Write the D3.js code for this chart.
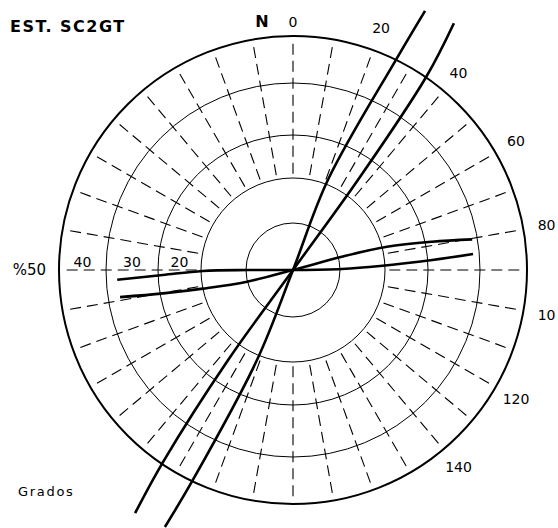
<!DOCTYPE html>
<html><head><meta charset="utf-8">
<script src="https://cdn.jsdelivr.net/npm/d3@7"></script>
<style>html,body{margin:0;padding:0;background:#fff;} svg{display:block;}</style>
</head><body>
<svg id="chart" width="558" height="528"></svg>
<script>
// ---- data ----
const title = "EST. SC2GT";
const northLabel = "N";
const footLabel = "Grados";
const ringValues = [10, 20, 30, 40, 50];
const ringLabelValues = [20, 30, 40, 50];
const ringLabelTexts = ["20", "30", "40", "%50"];
const spokeAngles = d3.range(0, 360, 10);
const angleTickValues = [0, 20, 40, 60, 80, 100, 120, 140];
const angleTickTexts = ["0", "20", "40", "60", "80", "10", "120", "140"];
// curves: [azimuth (deg, clockwise from N), percent]
const curve1 = [[27.0, 62.1], [26.1, 50.0], [21.2, 21.1], [0, 0], [201.8, 21.1], [205.5, 49.7], [206.5, 61.3]];
const curve2 = [[33.1, 62.9], [34.6, 50.1], [35.8, 24.4], [0, 0], [215.8, 24.4], [214.1, 49.5], [213.0, 61.9]];
const curve3 = [[266.8, 37.9], [267.8, 28.9], [269.4, 19.6], [270, 9.8], [0, 0], [88.8, 10.4], [87.4, 18.9], [85.9, 30.9], [84.9, 38.8]];
const curve4 = [[261.1, 37.7], [259.8, 29.3], [258.3, 20.0], [255.7, 10.1], [0, 0], [74.8, 10.8], [76.1, 21.1], [78.5, 31.3], [80.3, 39.0]];
const curves = [curve1, curve2, curve3, curve4];

// ---- layout ----
const cx = 293, cy = 270;
const r = d3.scaleLinear().domain([0, 10, 20, 30, 40, 50]).range([0, 47, 92, 135, 187, 234]);
const rad = d => d * Math.PI / 180;
const px = (az, p) => cx + r(p) * Math.sin(rad(az));
const py = (az, p) => cy - r(p) * Math.cos(rad(az));

const svg = d3.select("#chart");
svg.append("rect").attr("width", 558).attr("height", 528).attr("fill", "#fff");
const font = "'DejaVu Sans', sans-serif";

// spokes
svg.append("g").selectAll("line").data(spokeAngles).join("line")
  .attr("x1", d => px(d, 21)).attr("y1", d => py(d, 21))
  .attr("x2", d => px(d, 49.5)).attr("y2", d => py(d, 49.5))
  .attr("stroke", "#000").attr("stroke-width", 1.1)
  .attr("stroke-dasharray", "11,6");

// rings
svg.append("g").selectAll("circle").data(ringValues).join("circle")
  .attr("cx", cx).attr("cy", cy).attr("r", d => r(d))
  .attr("fill", "none").attr("stroke", "#000")
  .attr("stroke-width", d => d === 50 ? 2 : 1);

// curves
const line = d3.lineRadial()
  .angle(d => rad(d[0])).radius(d => r(d[1]))
  .curve(d3.curveCatmullRom.alpha(0.5));
svg.append("g").attr("transform", `translate(${cx},${cy})`)
  .selectAll("path").data(curves).join("path")
  .attr("d", line).attr("fill", "none").attr("stroke", "#000")
  .attr("stroke-width", 2.6).attr("stroke-linecap", "butt");

// angle labels
svg.append("g").selectAll("text").data(angleTickValues).join("text")
  .attr("x", d => px(d, d === 0 ? 53 : 55))
  .attr("y", d => py(d, d === 0 ? 53 : 55))
  .attr("dy", "0.36em").attr("text-anchor", "middle")
  .attr("font-family", font).attr("font-size", 14)
  .text((d, i) => angleTickTexts[i]);

// ring labels (west side)
svg.append("g").selectAll("text").data(ringLabelValues).join("text")
  .attr("x", d => d === 50 ? cx - r(50) - 13 : px(270, d + 5))
  .attr("y", d => d === 50 ? cy + 5 : cy - 3.5)
  .attr("text-anchor", d => d === 50 ? "end" : "middle")
  .attr("font-family", font).attr("font-size", d => d === 50 ? 15 : 14)
  .text((d, i) => ringLabelTexts[i]);

// title and other text
svg.append("text").attr("x", 10).attr("y", 31.5)
  .attr("font-family", font).attr("font-weight", "bold").attr("font-size", 16)
  .attr("letter-spacing", 1.5).text(title);
svg.append("text").attr("x", 262).attr("y", 27).attr("text-anchor", "middle")
  .attr("font-family", font).attr("font-weight", "bold").attr("font-size", 16)
  .text(northLabel);
svg.append("text").attr("x", 18).attr("y", 496)
  .attr("font-family", font).attr("font-size", 13)
  .attr("letter-spacing", 1.7).text(footLabel);
</script>
</body></html>
